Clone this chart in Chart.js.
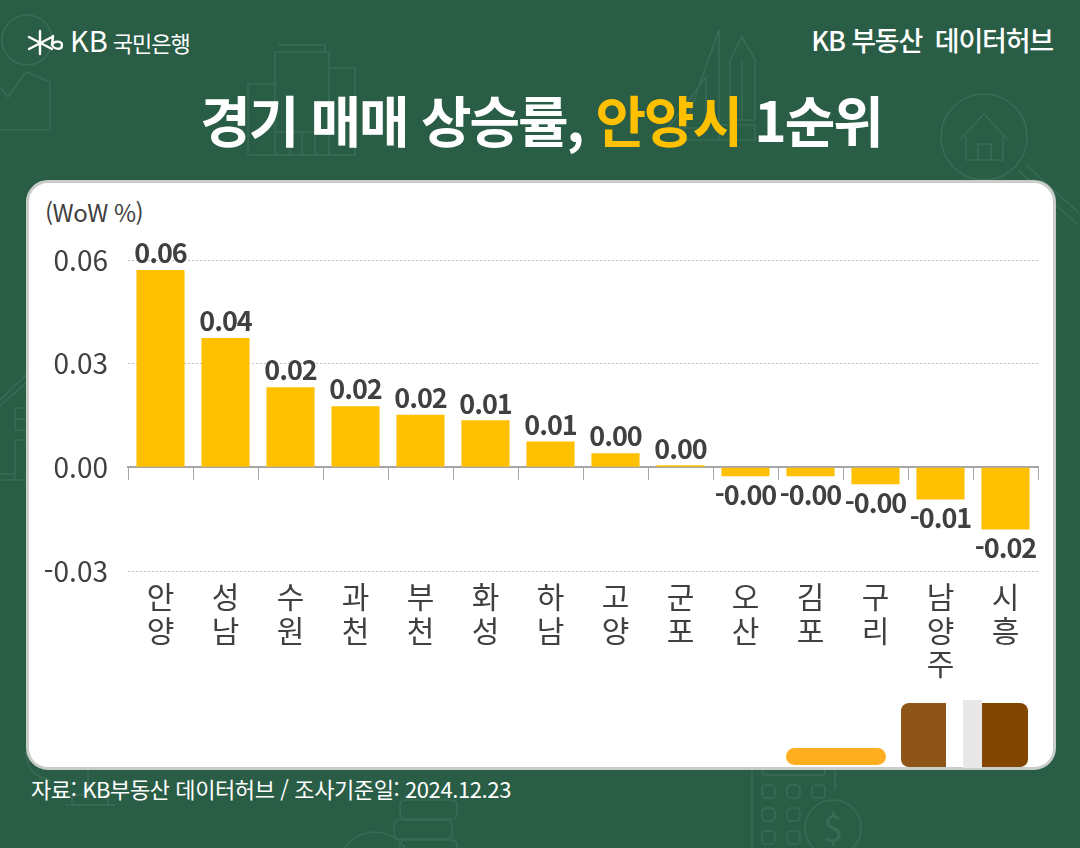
<!DOCTYPE html>
<html lang="ko">
<head>
<meta charset="utf-8">
<title>경기 매매 상승률</title>
<script src="https://cdn.jsdelivr.net/npm/chart.js@4"></script>
<style>
  html, body { margin: 0; padding: 0; }
  body { width: 1080px; height: 848px; position: relative; overflow: hidden; background: #2a5d46;
         font-family: "Noto Sans CJK KR", "Noto Sans", sans-serif; }
  #deco { position: absolute; left: 0; top: 0; }
  #card { position: absolute; left: 26px; top: 180px; width: 1024px; height: 584px; background: #fff;
          border: 3px solid #c9cdca; border-radius: 22px; }
  #chart { position: absolute; left: 0; top: 0; }
  .txt { position: absolute; white-space: nowrap; }
  #bank { left: 70px; top: 18px; color: #fff; font-size: 22px; letter-spacing: -1px; }
  #bank b { font-size: 29px; font-weight: 400; margin-right: 5px; letter-spacing: 0; }
  #hub { right: 27px; top: 20px; color: #fff; font-size: 27px; font-weight: 500; letter-spacing: -1.2px; }
  #title { left: 1px; width: 1080px; text-align: center; top: 78px; color: #fff; font-size: 55px; font-weight: 700; letter-spacing: -2.1px; }
  #title span { color: #ffc000; }
  #unit { left: 45px; top: 194px; color: #404040; font-size: 24px; letter-spacing: -.5px; }
  #source { left: 31px; top: 772px; color: #fff; font-size: 22px; letter-spacing: -.4px; }
  .blk { position: absolute; }
</style>
</head>
<body>
<svg id="deco" width="1080" height="848" fill="none" stroke="#3a6b55" stroke-width="1.6">
  <circle cx="27" cy="40" r="25"/>
  <path d="M-2 85 L8 97 L26 72 L50 82 V130 H-2"/>
  <path d="M248 155 V84 H275 V52 H329 V68 H355 V155 Z M275 84 V155 M329 68 V155 M278 45 H325 V52 M290 132 V155 M302 132 V155 M315 132 V155 M275 132 H329"/>
  <path d="M719 30 V140 H680 Z M706 77 V128 H668 Z"/>
  <path d="M730 60 L742 37 L755 60 V120 H730 Z M742 60 V120 M718 125 H755 V140 H718"/>
  <circle cx="984" cy="137" r="43"/>
  <path d="M960 140 L984 114 L1008 140 M966 136 V160 H1003 V136 M978 160 V144 H991 V160"/>
  <path d="M1018 170 L1078 225 M1026 165 L1078 212"/>
  <path d="M0 400 L26 375 M0 406 L26 383 M15 408 H26 M15 419 H26 M15 430 H26 M15 408 V430 M15 440 H26 M15 440 V480 M0 474 H15 M0 480 H26"/>
  <path d="M752 770 V848 M835 770 V790"/>
  <path d="M762 770 V773 Q762 775 765 775 H822 Q825 775 825 773 V770"/>
  <rect x="762" y="785" width="13" height="13" rx="4"/><rect x="787" y="785" width="13" height="13" rx="4"/><rect x="812" y="785" width="13" height="13" rx="4"/>
  <rect x="762" y="808" width="13" height="13" rx="4"/><rect x="787" y="808" width="13" height="13" rx="4"/>
  <rect x="762" y="831" width="13" height="13" rx="4"/><rect x="787" y="831" width="13" height="13" rx="4"/>
  <circle cx="833" cy="828" r="28"/>
  <text x="833" y="842" text-anchor="middle" font-size="36" fill="#3a6b55" stroke="none">$</text>
  <rect x="400" y="800" width="57" height="19" rx="5"/>
  <rect x="394" y="820" width="58" height="19" rx="5"/>
  <rect x="400" y="840" width="57" height="19" rx="5"/>
  <circle cx="375" cy="868" r="36"/>
  <path d="M26 752 Q26 775 50 780 M88 770 V800 M65 805 H115 M72 805 V795 H108 V805"/>
</svg>
<div id="card"></div>
<svg style="position:absolute;left:27px;top:28px" width="36" height="30" fill="none" stroke="#fff" stroke-width="2.4" stroke-linecap="round">
  <path d="M13 3 L13 26 M2 9 L25 21 M2 21 L25 9"/>
  <path d="M26 8 L25 17 M25 17 C27 12 35 13 35 17 C35 22 28 22 25 17"/>
</svg>
<div class="txt" id="bank"><b>KB</b>국민은행</div>
<div class="txt" id="hub">KB 부동산&nbsp; 데이터허브</div>
<div class="txt" id="title">경기 매매 상승률, <span>안양시</span> 1순위</div>
<div class="txt" id="unit">(WoW %)</div>
<div class="txt" id="source">자료: KB부동산 데이터허브 / 조사기준일: 2024.12.23</div>
<div class="blk" style="left:786px;top:748px;width:100px;height:17px;border-radius:9px;background:#ffae1f"></div>
<div class="blk" style="left:901px;top:703px;width:45px;height:64px;border-radius:8px 0 0 8px;background:#8e5518"></div>
<div class="blk" style="left:963px;top:700px;width:19px;height:68px;background:#e8e8e8"></div>
<div class="blk" style="left:982px;top:703px;width:46px;height:64px;border-radius:0 8px 8px 0;background:#824600"></div>
<canvas id="chart" width="1080" height="848"></canvas>
<script>
var categories = ['안양', '성남', '수원', '과천', '부천', '화성', '하남', '고양', '군포', '오산', '김포', '구리', '남양주', '시흥'];
var wowChange = [0.0571, 0.0374, 0.0232, 0.0177, 0.0152, 0.0136, 0.0075, 0.0041, 0.0006, -0.0026, -0.0026, -0.0049, -0.0093, -0.0180];
var yTicks = [-0.03, 0, 0.03, 0.06];

var TEXT = '#404040';
var FONT = '"Noto Sans CJK KR", "Noto Sans", sans-serif';

var barLabels = {
  id: 'barLabels',
  afterDatasetsDraw: function(chart) {
    var ctx = chart.ctx;
    ctx.save();
    ctx.font = '700 27px ' + FONT;
    ctx.letterSpacing = '-1px';
    ctx.fillStyle = TEXT;
    ctx.textAlign = 'center';
    ctx.textBaseline = 'middle';
    chart.getDatasetMeta(0).data.forEach(function(bar, i) {
      var v = wowChange[i];
      ctx.fillText(v.toFixed(2), bar.x, bar.y + (v < 0 ? 18 : -17));
    });
    ctx.restore();
  }
};

new Chart(document.getElementById('chart'), {
  type: 'bar',
  data: {
    labels: categories,
    datasets: [{
      data: wowChange,
      backgroundColor: '#ffc000',
      barPercentage: 0.74,
      categoryPercentage: 1
    }]
  },
  options: {
    responsive: false,
    animation: false,
    layout: { padding: { left: 28, right: 42, top: 260, bottom: 277 } },
    plugins: { legend: { display: false }, tooltip: { enabled: false } },
    scales: {
      x: {
        position: { y: 0 },
        offset: true,
        // the big tick padding below must not eat into the chart width
        afterFit: function(scale) { scale.paddingLeft = 0; scale.paddingRight = 0; },
        border: { display: true, color: '#a6a6a6', width: 2 },
        grid: { offset: true, drawOnChartArea: false, drawTicks: true, tickLength: 12, color: '#a6a6a6' },
        ticks: {
          color: TEXT,
          font: { family: FONT, size: 30, lineHeight: 1.13 },
          padding: 100,
          maxRotation: 0,
          autoSkip: false,
          callback: function(value) { return categories[value].split(''); }
        }
      },
      y: {
        min: -0.03,
        max: 0.06,
        afterFit: function(scale) { scale.width = 100; },
        afterBuildTicks: function(scale) { scale.ticks = yTicks.map(function(v) { return { value: v }; }); },
        border: { display: false, dash: [2, 2] },
        grid: { color: '#bdbdbd', lineWidth: 1, drawTicks: false },
        ticks: {
          color: TEXT,
          font: { family: FONT, size: 28 },
          padding: 20,
          callback: function(value) { return value.toFixed(2); }
        }
      }
    }
  },
  plugins: [barLabels]
});
</script>
</body>
</html>
